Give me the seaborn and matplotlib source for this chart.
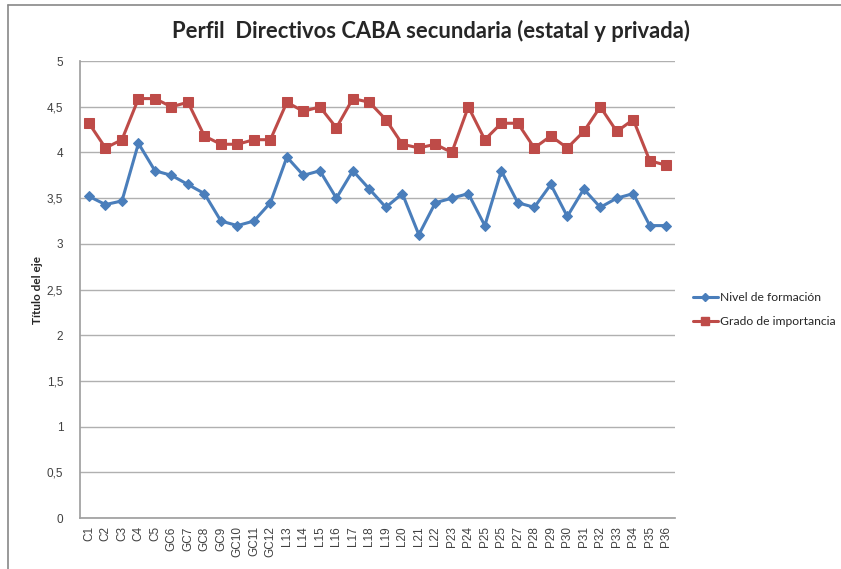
import numpy as np
import pandas as pd
import matplotlib
matplotlib.use("Agg")
import matplotlib.pyplot as plt
import seaborn as sns
from matplotlib.lines import Line2D

# --- datos ---
etiquetas = ["C1", "C2", "C3", "C4", "C5", "GC6", "GC7", "GC8", "GC9", "GC10", "GC11", "GC12",
             "L13", "L14", "L15", "L16", "L17", "L18", "L19", "L20", "L21", "L22",
             "P23", "P24", "P25", "P25", "P27", "P28", "P29", "P30", "P31", "P32", "P33",
             "P34", "P35", "P36"]

nivel_formacion = [3.52, 3.43, 3.47, 4.10, 3.80, 3.75, 3.65, 3.55, 3.25, 3.20, 3.25, 3.45,
                   3.95, 3.75, 3.80, 3.50, 3.80, 3.60, 3.40, 3.55, 3.10, 3.45,
                   3.50, 3.55, 3.20, 3.80, 3.45, 3.40, 3.65, 3.30, 3.60, 3.40, 3.50,
                   3.55, 3.20, 3.20]

grado_importancia = [4.32, 4.05, 4.14, 4.59, 4.59, 4.50, 4.55, 4.18, 4.09, 4.09, 4.14, 4.14,
                     4.55, 4.45, 4.50, 4.27, 4.59, 4.55, 4.36, 4.09, 4.05, 4.09,
                     4.00, 4.50, 4.14, 4.32, 4.32, 4.05, 4.18, 4.05, 4.23, 4.50, 4.23,
                     4.36, 3.91, 3.86]

azul = "#4A7EBB"
rojo = "#BE4B48"

sns.set_theme(style="white")
plt.rcParams['font.family'] = ['Lato', 'DejaVu Sans']

posiciones = np.arange(len(etiquetas))
df = pd.DataFrame({"pos": posiciones, "nivel": nivel_formacion, "grado": grado_importancia})

fig = plt.figure(figsize=(8.41, 5.69), dpi=100)
ax = fig.add_axes([0.095, 0.0896, 0.708, 0.803])

sns.lineplot(data=df, x="pos", y="nivel", ax=ax, color=azul, linewidth=2.2,
             marker="D", markersize=5.5, markeredgecolor=azul)
sns.lineplot(data=df, x="pos", y="grado", ax=ax, color=rojo, linewidth=2.2,
             marker="s", markersize=7, markeredgecolor=rojo)

ax.set_ylim(0, 5)
ax.set_xlim(-0.55, len(etiquetas) - 0.45)
ax.set_yticks(np.arange(0, 5.01, 0.5))
ax.set_yticklabels([f"{v:g}".replace(".", ",") for v in np.arange(0, 5.01, 0.5)],
                   fontsize=8.5, color="#404040", family=["Liberation Sans", "DejaVu Sans"])
ax.set_xticks(posiciones)
ax.set_xticklabels(etiquetas, rotation=90, fontsize=8.5, color="#404040",
                   family=["Liberation Sans", "DejaVu Sans"])
ax.yaxis.grid(True, color="#B0B0B0", linewidth=1)
ax.xaxis.grid(False)
for lado in ["top", "right"]:
    ax.spines[lado].set_visible(False)
for lado in ["left", "bottom"]:
    ax.spines[lado].set_color("#A0A0A0")
ax.tick_params(axis="y", length=4, color="#A0A0A0", pad=8)
ax.tick_params(axis="x", length=0, pad=6)

ax.set_xlabel("")
ax.set_ylabel("Título del eje", fontsize=8.5, fontweight="bold", labelpad=3)

fig.suptitle("Perfil  Directivos CABA secundaria (estatal y privada)", fontsize=15.8,
             fontweight="bold", x=0.513, y=0.965)

handles = [Line2D([], [], color=azul, marker="D", markersize=4.5, linewidth=2.2),
           Line2D([], [], color=rojo, marker="s", markersize=6, linewidth=2.2)]
fig.legend(handles, ["Nivel de formación", "Grado de importancia"], loc="center left",
           bbox_to_anchor=(0.822, 0.456), frameon=False, fontsize=8.7, handlelength=2.1,
           handletextpad=0.2, labelspacing=1.05, borderpad=0.1, borderaxespad=0)

# marco del grafico (solo lados visibles)
fig.add_artist(Line2D([0.009, 0.009], [0, 0.992], color="#888888", linewidth=1.2,
                      transform=fig.transFigure))
fig.add_artist(Line2D([0.009, 1.0], [0.992, 0.992], color="#888888", linewidth=1.2,
                      transform=fig.transFigure))

fig.savefig("out.png", dpi=100)
